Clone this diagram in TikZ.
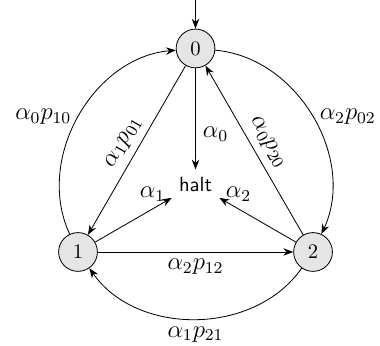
\documentclass[tikz,border=0pt]{standalone}
\usepackage{amsmath}
\usetikzlibrary{arrows.meta}
\begin{document}
\begin{tikzpicture}[>=Stealth,
    state/.style={circle, draw, fill=black!10, minimum size=0.66cm, inner sep=0pt},
    lab/.style={font=\large}]
  \useasboundingbox (-1.328,-1.600) rectangle (5.140,4.289);
  % 状态
  \node[state] (s0) at (2,3.464) {0};
  \node[state] (s1) at (0,0) {1};
  \node[state] (s2) at (4,0) {2};
  \node (halt) at (2,1.155) {\textsf{halt}};
  \coordinate (entry) at (2,4.289);

  % 初始状态
  \draw[->] (entry) -- (s0);
  % 到 halt
  \draw[->] (s0) -- node[lab, pos=0.65, right] {$\alpha_0$} (halt);
  \draw[->] (s1) -- node[lab, pos=0.75, above] {$\alpha_1$} (halt);
  \draw[->] (s2) -- node[lab, pos=0.75, above] {$\alpha_2$} (halt);
  % 三角形的边
  \draw[->] (s0) -- node[lab, sloped, above] {$\alpha_1p_{01}$} (s1);
  \draw[->] (s2) -- node[lab, sloped, above] {$\alpha_0p_{20}$} (s0);
  \draw[->] (s1) -- node[lab, below] {$\alpha_2p_{12}$} (s2);
  % 外弧
  \draw[->] (s1) to[bend left=55] node[lab, left] {$\alpha_0p_{10}$} (s0);
  \draw[->] (s0) to[bend left=55] node[lab, right] {$\alpha_2p_{02}$} (s2);
  \draw[->] (s2) to[bend left=55] node[lab, below] {$\alpha_1p_{21}$} (s1);
\end{tikzpicture}
\end{document}
